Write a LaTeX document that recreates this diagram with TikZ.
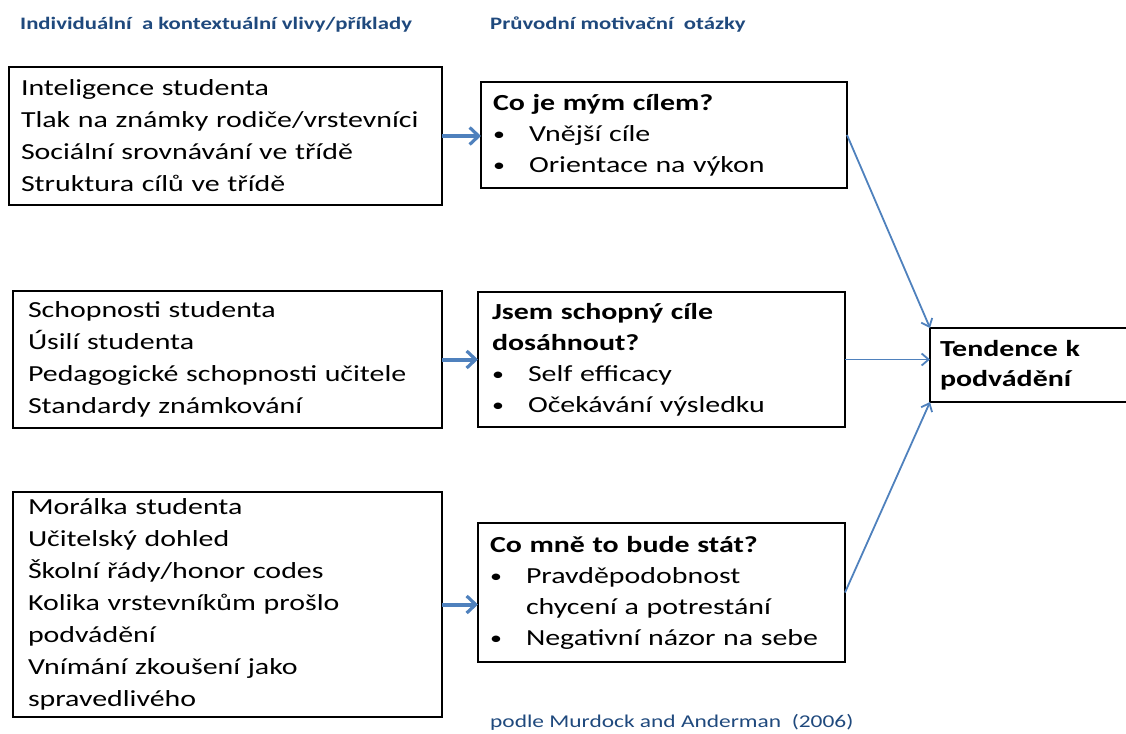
\documentclass[tikz,border=0pt]{standalone}
\usepackage{fontspec}
\setmainfont{Carlito}[FakeStretch=1.3]
\usetikzlibrary{arrows.meta}
\definecolor{hdr}{HTML}{1F497D}
\definecolor{arr}{HTML}{4F81BD}
\newcommand\bitem[1]{\makebox[36pt][l]{\raisebox{1pt}{\scalebox{0.8}{\textbullet}}}#1}
\begin{document}
\begin{tikzpicture}[x=1pt,y=-1pt,
  box/.style={draw=black, line width=1.8pt, inner xsep=12pt, inner ysep=0pt, outer sep=0pt,
    anchor=north west, align=left, font=\fontsize{23}{32}\selectfont},
  qbox/.style={box, font=\fontsize{23}{31}\selectfont},
  captext/.style={anchor=west, inner sep=0pt, text=hdr, font=\fontsize{17.5}{20}\selectfont},
  bigarrow/.style={draw=arr, line width=4pt, -{Straight Barb[length=9pt,width=17pt,line width=3.2pt]}},
  thinarrow/.style={draw=arr, line width=1.8pt, -{Straight Barb[length=7pt,width=12pt,line width=1.8pt]}}]
\useasboundingbox (0,0) rectangle (1126,733);
\clip (0,0) rectangle (1126,733);
\node[captext, font=\fontsize{17.5}{20}\selectfont\bfseries] (h1) at (20,25) {Individuální \ a kontextuální vlivy/příklady};
\node[captext, font=\fontsize{17.5}{20}\selectfont\bfseries] (h2) at (490,25) {Průvodní motivační \ otázky};
\node[box, text width=409pt, minimum height=138pt] (l1) at (9,67)
  {Inteligence studenta\\Tlak na známky rodiče/vrstevníci\\Sociální srovnávání ve třídě\\Struktura cílů ve třídě};
\node[box, inner xsep=15pt, text width=399pt, minimum height=137pt] (l2) at (13,291)
  {Schopnosti studenta\\Úsilí studenta\\Pedagogické schopnosti učitele\\Standardy známkování};
\node[box, inner xsep=15pt, text width=399pt, minimum height=225pt] (l3) at (13,492)
  {Morálka studenta\\Učitelský dohled\\Školní řády/honor codes\\Kolika vrstevníkům prošlo\\podvádění\\Vnímání zkoušení jako\\spravedlivého};
\node[qbox, inner xsep=12pt, text width=342pt, minimum height=106pt] (m1) at (481,82)
  {\textbf{Co je mým cílem?}\\\bitem{Vnější cíle}\\\bitem{Orientace na výkon}};
\node[qbox, inner xsep=14pt, text width=339pt, minimum height=135pt] (m2) at (478,292)
  {\textbf{Jsem schopný cíle}\\\textbf{dosáhnout?}\\\bitem{Self efficacy}\\\bitem{Očekávání výsledku}};
\node[qbox, inner xsep=12pt, text width=343pt, minimum height=139pt] (m3) at (478,523)
  {\textbf{Co mně to bude stát?}\\\bitem{Pravděpodobnost}\\\hspace*{36pt}chycení a potrestání\\\bitem{Negativní názor na sebe}};
\node[box, font=\fontsize{23}{30}\selectfont\bfseries, inner xsep=10pt, text width=190pt, minimum height=74pt] (r) at (930,328)
  {Tendence k\\podvádění};
\node[captext, font=\fontsize{18}{20}\selectfont] (src) at (490,722) {podle Murdock and Anderman \ (2006)};
\draw[bigarrow] (l1.east) -- (m1.west |- l1.east);
\draw[bigarrow] (l2.east) -- (m2.west |- l2.east);
\draw[bigarrow] (l3.east) -- (m3.west |- l3.east);
\draw[thinarrow] (m1.east) -- (r.north west);
\draw[thinarrow] (m2.east) -- (r.west |- m2.east);
\draw[thinarrow] (m3.east) -- (r.south west);
\end{tikzpicture}
\end{document}
